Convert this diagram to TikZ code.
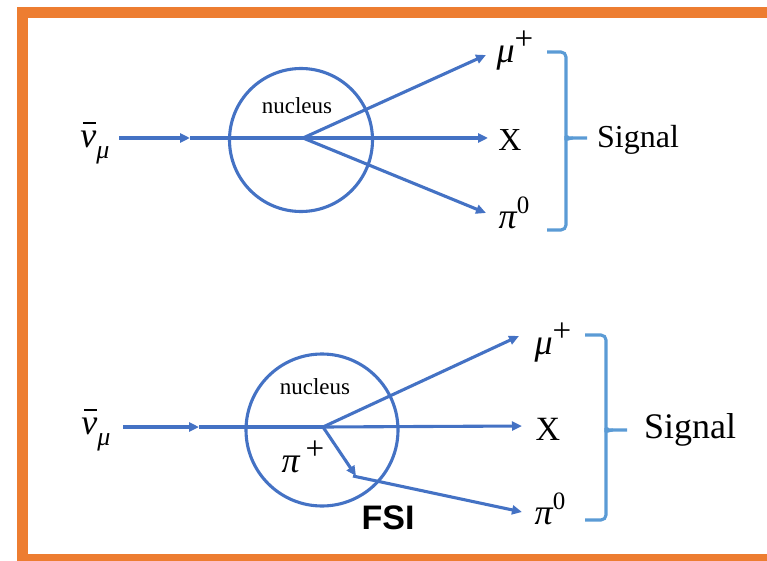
\documentclass[tikz,border=0pt]{standalone}
\usepackage{fontspec}
\setmainfont{Liberation Serif}
\newfontfamily\fsifont{Liberation Sans}
\usetikzlibrary{arrows.meta}
\definecolor{frameorange}{HTML}{ED7D31}
\definecolor{lineblue}{HTML}{4472C4}
\definecolor{bracketblue}{HTML}{5B9BD5}
\newcommand\myup[1]{\raisebox{0.40em}{\fontsize{25}{26}\selectfont #1}}
\newcommand\myplus{\raisebox{0.36em}{\fontsize{33}{34}\selectfont +}}
\newcommand\mydown[1]{\raisebox{-0.30em}{\fontsize{26}{27}\selectfont\itshape #1}}
\newcommand\nubar{{\itshape ν}\llap{\rule[0.66em]{0.36em}{0.05em}\hspace{0.02em}}}
\tikzset{
  ray/.style={draw=lineblue, line width=3.1pt, -{Triangle[length=10pt,width=9pt]}},
  plainray/.style={draw=lineblue, line width=3.1pt},
  nucl/.style={draw=lineblue, line width=3.1pt},
  brk/.style={draw=bracketblue, line width=3.1pt, rounded corners=5pt},
  mlabel/.style={inner sep=0pt, font=\fontsize{36}{38}\selectfont},
  nuclabel/.style={inner sep=0pt, font=\fontsize{23}{26}\selectfont},
  siglabel/.style={inner sep=0pt},
}
\begin{document}
\begin{tikzpicture}[x=1pt,y=-1pt]
\useasboundingbox (0,0) rectangle (767,561);
% frame
\fill[frameorange] (17,7) rectangle (28,561);
\fill[frameorange] (17,7) rectangle (767,18);
\fill[frameorange] (17,554) rectangle (767,561);

% ---------- top diagram ----------
\draw[nucl] (301,140) circle[radius=71.5pt];
\node[nuclabel] (nucA) at (297,106) {nucleus};
\node[mlabel] (nuA) at (95,143) {\nubar\mydown{μ}};
\coordinate (inA) at (119,138);
\coordinate (midA) at (190,138);
\coordinate (vA) at (303,138);
\coordinate (muTipA) at (486,55);
\coordinate (xTipA) at (488,138);
\coordinate (piTipA) at (486,213);
\draw[ray] (inA) -- (midA);
\draw[plainray] (midA) -- (vA);
\draw[ray] (vA) -- (muTipA);
\draw[ray] (vA) -- (xTipA);
\draw[ray] (vA) -- (piTipA);
\node[mlabel] (muA) at (515,51) {{\itshape μ}\myplus};
\node[siglabel, font=\fontsize{32}{34}\selectfont] (xA) at (510,140) {X};
\node[mlabel] (piA) at (514,213) {{\itshape π}\myup{0}};
\draw[brk] (547,52) -- (566,52) -- (566,132) to[out=-90,in=180] (573,138) -- (587,138);
\draw[brk] (547,230) -- (566,230) -- (566,144) to[out=90,in=180] (573,138);
\node[siglabel, font=\fontsize{32}{34}\selectfont] (sigA) at (638,140) {Signal};

% ---------- bottom diagram ----------
\draw[nucl] (322,430) circle[radius=76pt];
\node[nuclabel] (nucB) at (315,387) {nucleus};
\node[mlabel] (piplus) at (303,457) {{\itshape π}\,\myplus};
\node[mlabel] (nuB) at (96,430) {\nubar\mydown{μ}};
\coordinate (inB) at (123,427);
\coordinate (midB) at (199,427);
\coordinate (vB) at (323,427);
\coordinate (fsiTip) at (356,476);
\coordinate (kink) at (353,476);
\coordinate (muTipB) at (519,336);
\coordinate (xTipB) at (522,426);
\coordinate (piTipB) at (522,512);
\draw[ray] (inB) -- (midB);
\draw[plainray] (midB) -- (vB);
\draw[ray] (vB) -- (muTipB);
\draw[ray] (vB) -- (xTipB);
\draw[ray] (vB) -- (fsiTip);
\draw[ray] (kink) -- (piTipB);
\node[mlabel] (muB) at (553,343) {{\itshape μ}\myplus};
\node[siglabel, font=\fontsize{34}{36}\selectfont] (xB) at (548,429) {X};
\node[mlabel] (piB) at (550,509) {{\itshape π}\myup{0}};
\draw[brk] (585,335) -- (606,335) -- (606,424) to[out=-90,in=180] (613,430) -- (627,430);
\draw[brk] (585,520) -- (606,520) -- (606,436) to[out=90,in=180] (613,430);
\node[siglabel, font=\fontsize{36}{38}\selectfont] (sigB) at (690,430) {Signal};
\node[inner sep=0pt, font=\fsifont\bfseries\fontsize{34}{36}\selectfont] (fsi) at (388,518) {FSI};
\end{tikzpicture}
\end{document}
